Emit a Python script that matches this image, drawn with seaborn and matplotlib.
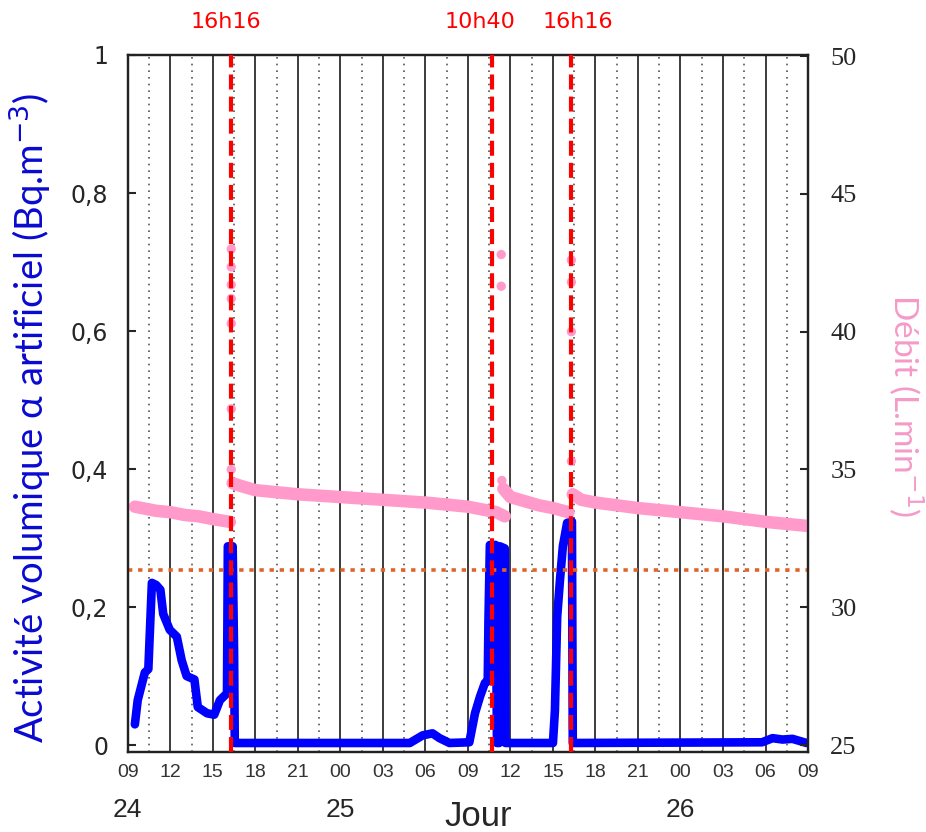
import numpy as np
import pandas as pd
import matplotlib
matplotlib.use("Agg")
import matplotlib.pyplot as plt
import seaborn as sns

# time in hours from day 24 00:00
blue_t = [9.5, 9.7, 10.2, 10.45, 10.7, 11.0, 11.3, 11.5, 11.96, 12.46, 12.8, 13.15, 13.7, 13.94,
          14.6, 15.1, 15.5, 16.0, 16.06, 16.4, 16.5, 16.55, 28.9, 29.8, 30.5, 31.0, 31.7, 33.1,
          33.5, 33.85, 34.2, 34.4, 34.45, 34.55, 34.95, 35.05, 35.2, 35.26, 35.6, 35.65, 39.0,
          39.14, 39.3, 39.5, 39.7, 40.0, 40.34, 40.4, 53.75, 54.5, 55.2, 55.9, 56.9]
blue_v = [0.03, 0.065, 0.105, 0.11, 0.235, 0.232, 0.225, 0.19, 0.167, 0.157, 0.123, 0.10, 0.095, 0.055,
          0.046, 0.044, 0.065, 0.075, 0.288, 0.288, 0.135, 0.003, 0.003, 0.014, 0.017, 0.01, 0.003, 0.004,
          0.046, 0.07, 0.09, 0.093, 0.18, 0.29, 0.29, 0.003, 0.003, 0.288, 0.285, 0.003, 0.003,
          0.05, 0.186, 0.24, 0.288, 0.322, 0.324, 0.003, 0.004, 0.01, 0.008, 0.009, 0.003]

pink_seg = [1] * 7 + [2] * 10 + [3] * 6 + [4] * 8
pink_t = [9.5, 11, 12, 13, 14, 15, 16.2,
          16.4, 17, 18, 21, 24, 27, 30, 33, 35, 35.6,
          35.5, 36, 37, 38, 39, 40.1,
          40.4, 41, 42, 45, 48, 51, 54, 57]
pink_v = [33.65, 33.5, 33.45, 33.35, 33.3, 33.2, 33.1,
          34.5, 34.4, 34.25, 34.1, 34.0, 33.9, 33.8, 33.65, 33.45, 33.3,
          34.3, 34.0, 33.85, 33.7, 33.6, 33.45,
          34.1, 33.9, 33.8, 33.6, 33.45, 33.3, 33.1, 32.95]

spike_t = [16.3, 16.3, 16.3, 16.3, 16.3, 16.3, 16.3, 35.35, 35.35, 35.4, 40.3, 40.3, 40.3, 40.3]
spike_v = [43.0, 42.35, 41.7, 41.2, 40.3, 37.2, 35.0, 42.8, 41.65, 34.6, 42.6, 41.8, 40.0, 35.3]

seuil = 0.253
events = [16.27, 34.67, 40.27]
event_labels = ["16h16", "10h40", "16h16"]
event_label_x = [15.92, 33.85, 40.76]

day_labels = ["24", "25", "26"]
day_x = [9.0, 24.0, 48.0]

xticks = np.arange(9, 58, 3)

sns.set_style("white")
plt.rcParams['font.family'] = ['DejaVu Sans']

fig = plt.figure(figsize=(9.26, 8.32), dpi=100)
ax = fig.add_axes([0.138, 0.0962, 0.7346, 0.8377])
ax2 = ax.twinx()

# grid
for x in xticks:
    ax.axvline(x, color="#3c3c3c", lw=1.4, zorder=1)
for x in xticks[:-1] + 1.5:
    ax.axvline(x, color="#555555", lw=1.2, linestyle=(0, (1, 3)), zorder=1)

df_b = pd.DataFrame({"t": blue_t, "v": blue_v})
sns.lineplot(data=df_b, x="t", y="v", ax=ax, color="#0000ff", lw=6.2, sort=False,
             estimator=None, zorder=3, legend=False)
ax.axhline(seuil, color="#e0642a", lw=2.6, linestyle=(0, (1.2, 1.6)), zorder=4)

df_p = pd.DataFrame({"t": pink_t, "v": pink_v, "seg": pink_seg})
sns.lineplot(data=df_p, x="t", y="v", units="seg", estimator=None, ax=ax2, color="#ff9acb",
             lw=9, sort=False, legend=False, solid_capstyle="round")
sns.scatterplot(x=spike_t, y=spike_v, ax=ax2, color="#ff9acb", s=45, edgecolor="none")

for x in events:
    ax2.axvline(x, color="#ff0000", lw=3, linestyle=(0, (3.6, 1.7)), zorder=5)

ax.set_xlim(9, 57)
ax.set_ylim(-0.01, 1.0)
ax2.set_ylim(24.75, 50.04)

ax.set_xticks(xticks)
ax.set_xticklabels([f"{int(h) % 24:02d}" for h in xticks], fontsize=14,
                   family="Liberation Sans", color="#333333")
ax.set_yticks([0, 0.2, 0.4, 0.6, 0.8, 1.0])
ax.set_yticklabels(["0", "0,2", "0,4", "0,6", "0,8", "1"], fontsize=17)
ax2.set_yticks([25, 30, 35, 40, 45, 50])
ax2.set_yticklabels(["25", "30", "35", "40", "45", "50"], fontsize=19, family="Liberation Serif")
ax.tick_params(axis="x", direction="in", length=0, pad=9)
ax.tick_params(axis="y", direction="in", length=6, width=1.5, pad=14)
ax2.tick_params(axis="y", direction="in", length=6, width=1.5, pad=16)
ax.set_xlabel("")
ax.set_ylabel("")
ax2.set_ylabel("")

for sp in list(ax.spines.values()) + list(ax2.spines.values()):
    sp.set_color("#222222")
    sp.set_linewidth(1.6)

ax.text(-0.142, 0.48, "Activité volumique α artificiel (Bq.m$^{-3}$)", transform=ax.transAxes,
        rotation=90, ha="center", va="center", fontsize=27.5, color="#0a0ad0",
        family=["Lato", "DejaVu Sans"])
ax2.text(1.143, 0.497, "Débit (L.min$^{-1}$)", transform=ax2.transAxes, rotation=-90,
         ha="center", va="center", fontsize=24, color="#f59ac8",
         family=["Lato", "DejaVu Sans"])

trans = ax.get_xaxis_transform()
for lab, x in zip(event_labels, event_label_x):
    ax.text(x, 1.047, lab, transform=trans, ha="center", va="center", fontsize=16, color="#ff0000")
for lab, x in zip(day_labels, day_x):
    ax.text(x, -0.083, lab, transform=trans, ha="center", va="center", fontsize=19,
            family="Liberation Sans")
ax.text(33.7, -0.092, "Jour", transform=trans, ha="center", va="center", fontsize=25,
        family="Liberation Sans")

fig.savefig("out.png", dpi=100)
